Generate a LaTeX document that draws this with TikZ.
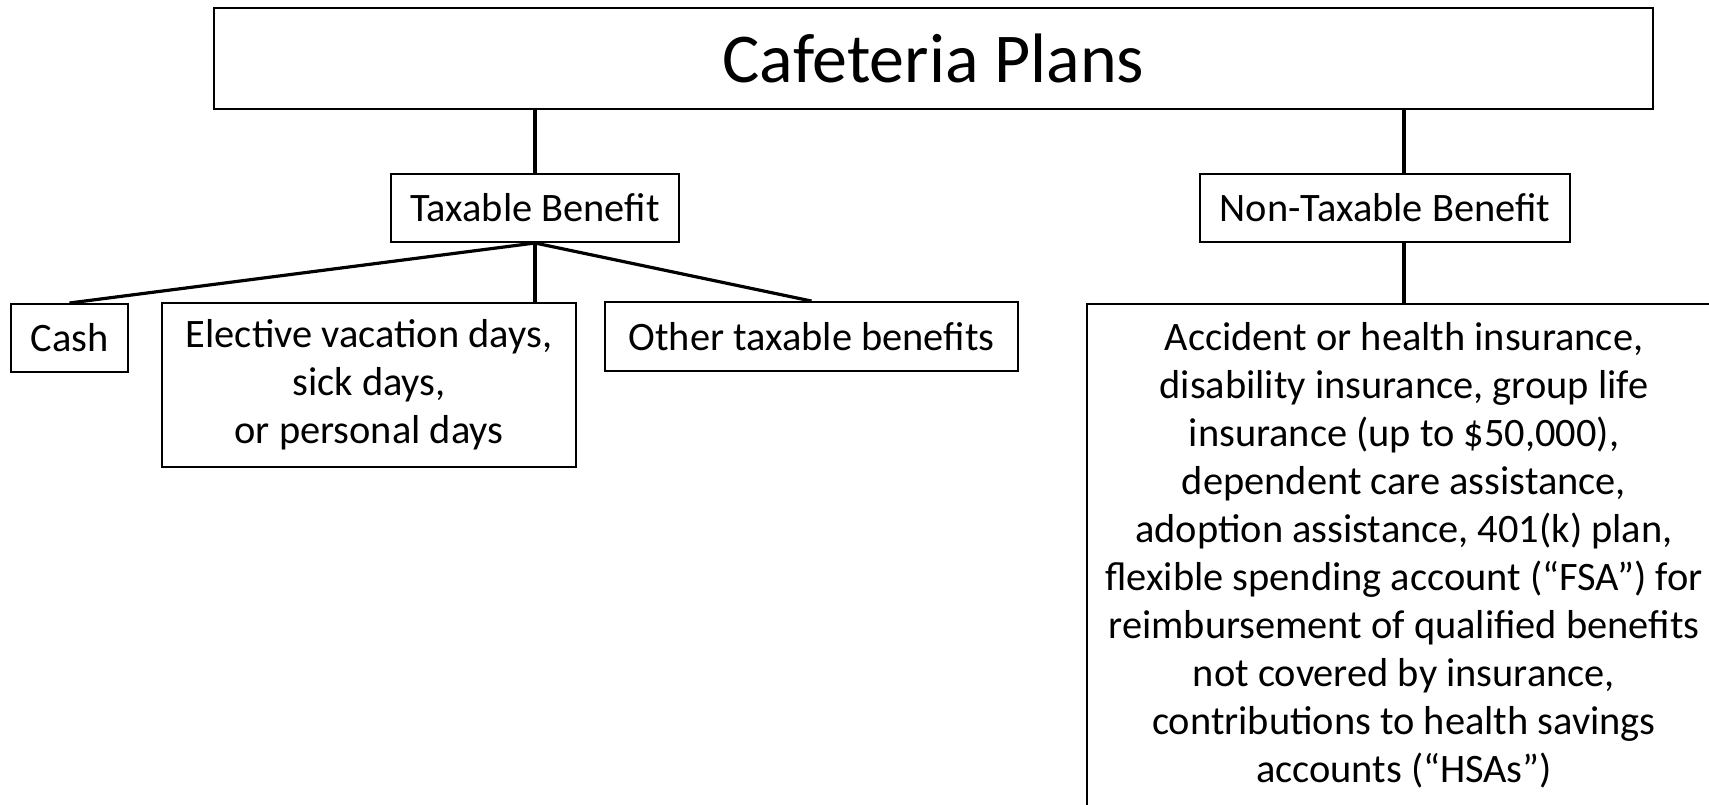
\documentclass[tikz,border=0pt]{standalone}
\usepackage{fontspec}
\setmainfont{Carlito}
\begin{document}
\begin{tikzpicture}[x=0.5pt,y=-0.5pt,
  box/.style={draw, line width=1pt, inner sep=0pt, align=center, font=\fontsize{20.2}{24}\selectfont},
  link/.style={line width=1.6pt}]
\useasboundingbox (0,0) rectangle (1709,804);
\clip (0,0) rectangle (1709,804);
\node[box, minimum width=719.9pt, minimum height=50.7pt, font=\fontsize{35}{40}\selectfont] (title) at (933.5,58.3) {Cafeteria Plans};
\node[box, minimum width=144pt, minimum height=34pt] (tax) at (535,208) {Taxable Benefit};
\node[box, minimum width=184.75pt, minimum height=34pt] (ntax) at (1385,208) {Non-Taxable Benefit};
\node[box, minimum width=58.5pt, minimum height=34pt] (cash) at (69.5,338) {Cash};
\node[box, minimum width=207pt, minimum height=82pt] (elec) at (369,384.7) {Elective vacation days,\\sick days,\\or personal days};
\node[box, minimum width=206.5pt, minimum height=34.25pt] (other) at (811.5,336.3) {Other taxable benefits};
\node[box, minimum width=317pt, minimum height=258pt] (bigbox) at (1404,562) {};
\node[align=center, inner sep=0pt, anchor=north, font=\fontsize{20.2}{24}\selectfont] (bigtext) at (1404,322) {Accident or health insurance,\\disability insurance, group life\\insurance (up to \$50,000),\\dependent care assistance,\\adoption assistance, 401(k) plan,\\flexible spending account (“FSA”) for\\reimbursement of qualified benefits\\not covered by insurance,\\contributions to health savings\\accounts (“HSAs”)};
\draw[link] (title.south -| tax.north) -- (tax.north);
\draw[link] (title.south -| bigbox.north) -- (ntax.north -| bigbox.north);
\draw[link] (ntax.south -| bigbox.north) -- (bigbox.north);
\draw[link] (tax.south) -- (cash.north);
\draw[link] (tax.south) -- (tax.south |- elec.north);
\draw[link] (tax.south) -- (other.north);
\end{tikzpicture}
\end{document}
